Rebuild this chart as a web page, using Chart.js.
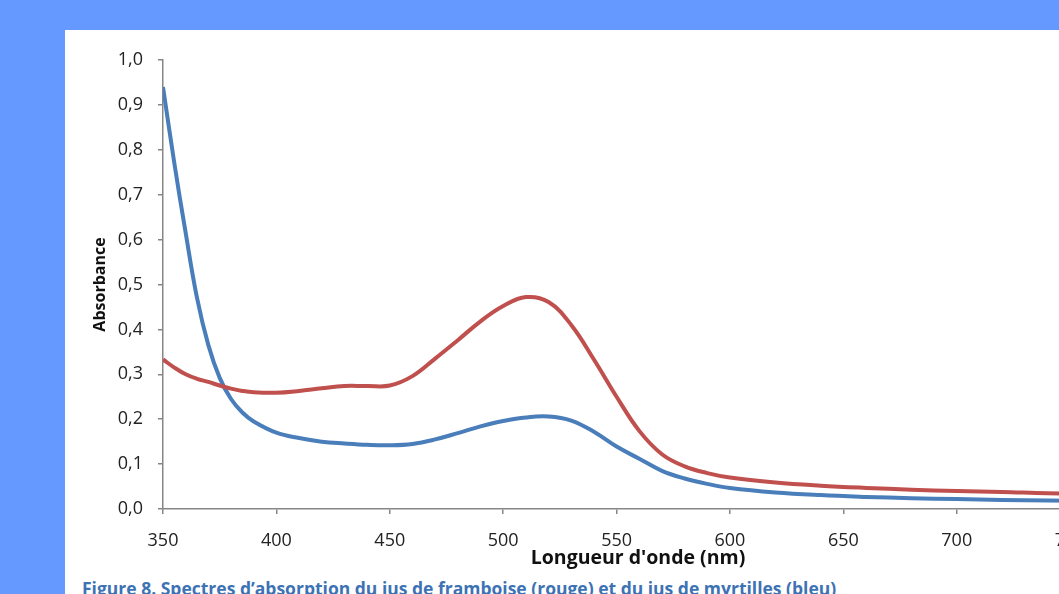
<!DOCTYPE html>
<html>
<head>
<meta charset="utf-8">
<script src="https://cdn.jsdelivr.net/npm/chart.js@4"></script>
<style>
  html, body { margin: 0; padding: 0; overflow: hidden; width: 1059px; height: 594px; background: #6699ff; }
  #panel { position: absolute; left: 65px; top: 30px; width: 1200px; height: 700px; background: #fff; }
  #spectre { position: absolute; left: 0; top: 0; }
  #xtitle { position: absolute; left: 453px; top: 513px; width: 240px; text-align: center;
            font: bold 19.5px "Open Sans", sans-serif; color: #111; white-space: nowrap; }
  #caption { position: absolute; left: 17px; top: 546px; font: bold 17.5px "Open Sans", sans-serif;
             color: #3d72b4; white-space: nowrap; }
</style>
</head>
<body>
<div id="panel">
  <canvas id="spectre" width="1150" height="530"></canvas>
  <div id="xtitle">Longueur d'onde (nm)</div>
  <div id="caption">Figure 8. Spectres d’absorption du jus de framboise (rouge) et du jus de myrtilles (bleu)</div>
</div>
<script>
// longueurs d'onde (nm)
const wavelengths = [350, 355, 360, 365, 370, 375, 380, 385, 390, 400, 410, 420, 430, 440, 450,
  460, 470, 480, 490, 500, 510, 520, 530, 540, 550, 560, 570, 580, 590, 600,
  620, 640, 660, 680, 700, 720, 740, 760, 780, 800];

// jus de framboise (rouge)
const framboise = [0.333, 0.315, 0.300, 0.290, 0.283, 0.275, 0.268, 0.263, 0.260, 0.259, 0.263, 0.269, 0.274, 0.274, 0.275,
  0.296, 0.335, 0.376, 0.418, 0.452, 0.472, 0.461, 0.410, 0.333, 0.250, 0.174, 0.122, 0.095, 0.080, 0.070,
  0.059, 0.052, 0.047, 0.043, 0.040, 0.038, 0.035, 0.034, 0.033, 0.032];

// jus de myrtilles (bleu)
const myrtilles = [0.940, 0.770, 0.615, 0.470, 0.365, 0.292, 0.245, 0.215, 0.195, 0.170, 0.158, 0.150, 0.146, 0.143, 0.142,
  0.145, 0.155, 0.169, 0.184, 0.196, 0.204, 0.206, 0.197, 0.172, 0.139, 0.112, 0.085, 0.068, 0.056, 0.047,
  0.037, 0.031, 0.027, 0.024, 0.022, 0.020, 0.019, 0.018, 0.018, 0.017];

const xMin = 350, xMax = 800, xStep = 50;
const yMin = 0, yMax = 1, yStep = 0.1;

function toPoints(values) {
  return wavelengths.map((w, i) => ({ x: w, y: values[i] }));
}

const axisColor = '#868686';
const tickFont = { family: '"Open Sans", sans-serif', size: 18 };

const ctx = document.getElementById('spectre');
const chart = new Chart(ctx, {
  type: 'line',
  data: {
    datasets: [
      {
        label: 'framboise',
        data: toPoints(framboise),
        borderColor: '#c0504d',
        borderWidth: 4,
        pointRadius: 0,
        tension: 0.4,
        fill: false,
      },
      {
        label: 'myrtilles',
        data: toPoints(myrtilles),
        borderColor: '#4a7ebb',
        borderWidth: 4,
        pointRadius: 0,
        tension: 0.4,
        fill: false,
      },
    ],
  },
  options: {
    responsive: false,
    animation: false,
    devicePixelRatio: 1,
    layout: { padding: { left: 26, top: 30, right: 26, bottom: 0 } },
    plugins: { legend: { display: false }, tooltip: { enabled: false } },
    scales: {
      x: {
        type: 'linear',
        min: xMin,
        max: xMax,
        afterFit: (scale) => { scale.height = 51; },
        border: { display: true, color: axisColor, width: 1.5 },
        grid: { drawOnChartArea: false, drawTicks: true, tickLength: 5, color: axisColor, lineWidth: 1.5 },
        ticks: { stepSize: xStep, padding: 16, color: '#222', font: tickFont, maxRotation: 0 },
      },
      y: {
        min: yMin,
        max: yMax,
        afterFit: (scale) => { scale.width = 72; },
        border: { display: true, color: axisColor, width: 1.5 },
        grid: { drawOnChartArea: false, drawTicks: true, tickLength: 5, color: axisColor, lineWidth: 1.5 },
        ticks: {
          stepSize: yStep,
          padding: 15,
          color: '#222',
          font: tickFont,
          callback: (v) => v.toFixed(1).replace('.', ','),
        },
        title: {
          display: true,
          text: 'Absorbance',
          color: '#111',
          font: { family: '"Open Sans", sans-serif', size: 16, weight: 'bold' },
          padding: { top: 0, bottom: 0 },
        },
      },
    },
  },
});
</script>
</body>
</html>
